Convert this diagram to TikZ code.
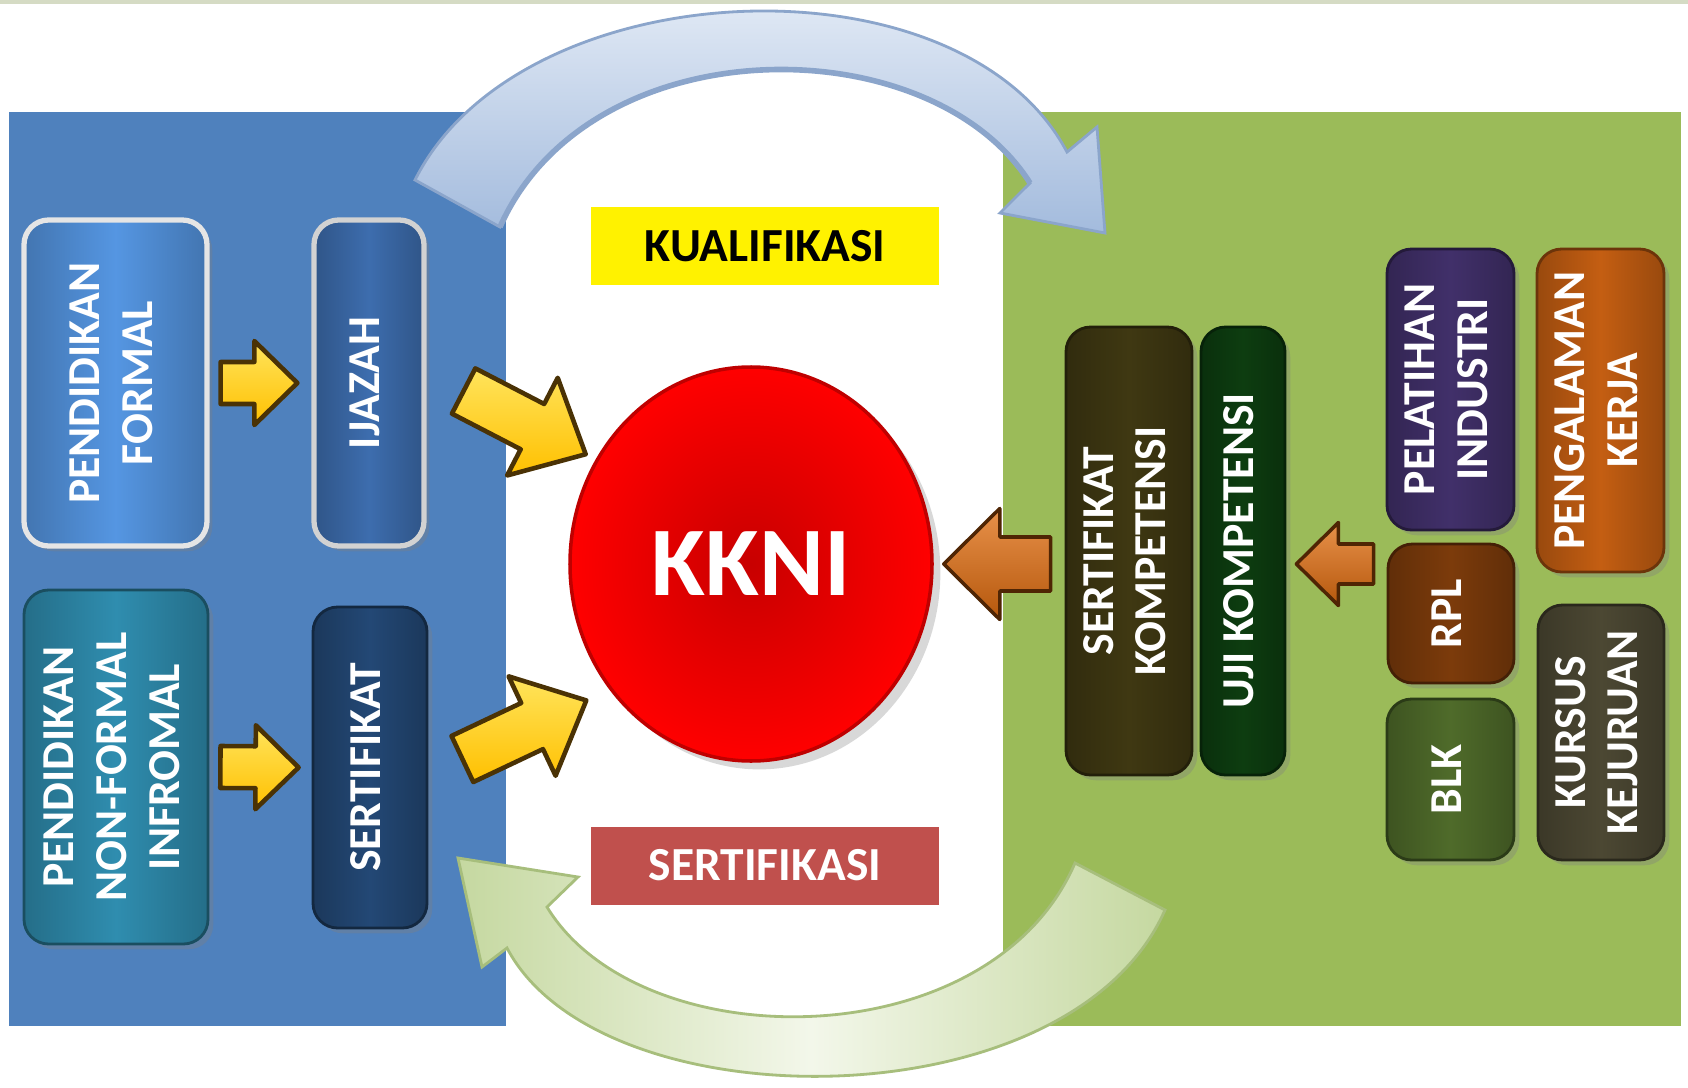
\documentclass[tikz,border=0pt]{standalone}
\usepackage{fontspec}
\usepackage{graphicx}
\setmainfont{Carlito}
\usetikzlibrary{calc,shapes.geometric,shadows}

\definecolor{panelblue}{HTML}{4F81BD}
\definecolor{panelgreen}{HTML}{9BBB59}
\definecolor{framegray}{HTML}{D5DBC4}
\definecolor{pfblue}{HTML}{5596E2}
\definecolor{ijblue}{HTML}{3D6DAE}
\definecolor{nfiteal}{HTML}{2F8DAF}
\definecolor{sertnavy}{HTML}{234875}
\definecolor{skolive}{HTML}{3F3812}
\definecolor{ujigreen}{HTML}{0D3D10}
\definecolor{pelpurple}{HTML}{41306A}
\definecolor{pengorange}{HTML}{C45E12}
\definecolor{rplbrown}{HTML}{7C3B0B}
\definecolor{blkgreen}{HTML}{4F6B2A}
\definecolor{kurgray}{HTML}{4C4833}
\definecolor{sertred}{HTML}{C0504D}
\definecolor{kknidark}{HTML}{C80000}
\definecolor{arrowyellow}{HTML}{FFC000}
\definecolor{arrowlight}{HTML}{FFE45C}
\definecolor{arrowedge}{HTML}{4A3205}
\definecolor{arrowbrown}{HTML}{B5570C}
\definecolor{arrowtan}{HTML}{E8914A}
\definecolor{brownedge}{HTML}{4F2504}
\definecolor{arctop}{HTML}{EEF3FA}
\definecolor{arcblue}{HTML}{A3BBDD}
\definecolor{arcedge}{HTML}{8BA5CB}
\definecolor{arcgreen}{HTML}{C5D8A0}
\definecolor{arcpale}{HTML}{F3F7EA}
\definecolor{arcgreenedge}{HTML}{A7BE7C}

\newcommand{\boxfont}{\fontsize{13}{15}\selectfont\bfseries}
\newcommand{\vtext}[1]{\rotatebox{90}{\begin{tabular}{@{}c@{}}#1\end{tabular}}}
% block arrow: style, from, to, half shaft, half head, head length
\newcommand{\blockarrow}[6]{%
  \coordinate (ba-s) at (#2);
  \coordinate (ba-e) at (#3);
  \coordinate (ba-b) at ($(ba-e)!#6!(ba-s)$);
  \draw[#1] ($(ba-s)!#4!90:(ba-e)$) -- ($(ba-b)!#4!90:(ba-e)$)
    -- ($(ba-b)!#5!90:(ba-e)$) -- (ba-e)
    -- ($(ba-b)!#5!-90:(ba-e)$) -- ($(ba-b)!#4!-90:(ba-e)$)
    -- ($(ba-s)!#4!-90:(ba-e)$) -- cycle;
}

\tikzset{
  panelbox/.style={rectangle, rounded corners=7pt, inner sep=0pt, text=white, font=\boxfont,
    left color=#1!78!black, right color=#1!78!black, middle color=#1,
    draw=#1!55!black, line width=0.8pt,
    drop shadow={opacity=0.35, shadow xshift=1.5pt, shadow yshift=-1.5pt}},
  tag/.style={rectangle, inner sep=0pt, minimum width=3.48cm, minimum height=0.78cm,
    font=\fontsize{13.5}{15}\selectfont\bfseries},
  yarrow/.style={draw=arrowedge, line width=1.3pt, line join=round,
    top color=arrowlight, bottom color=arrowyellow},
  barrow/.style={draw=brownedge, line width=1pt, line join=round,
    top color=arrowtan, bottom color=arrowbrown}
}

\begin{document}
\begin{tikzpicture}
  \useasboundingbox (0,0) rectangle (16.88,10.87);
  \fill[white] (0,0) rectangle (16.88,10.87);
  \draw[framegray, line width=1pt] (0,10.85) -- (16.88,10.85);
  \fill[panelblue] (0.09,0.61) rectangle (5.06,9.75);
  \fill[panelgreen] (10.03,0.61) rectangle (16.81,9.75);

  \draw[arcedge, line width=0.8pt, top color=arctop, bottom color=arcblue]
    (4.15,9.07) .. controls (5.20,11.17) and (9.60,11.37) .. (10.67,9.35)
    -- (10.97,9.60) -- (11.05,8.54) -- (10.00,8.74) -- (10.30,9.04)
    .. controls (9.30,10.62) and (5.90,10.62) .. (5.00,8.60) -- cycle;
  \draw[arcedge, line width=1.6pt] (10.30,9.04) .. controls (9.30,10.62) and (5.90,10.62) .. (5.00,8.60);
  \draw[arcgreenedge, line width=0.8pt, left color=arcgreen, right color=arcgreen, middle color=arcpale]
    (10.75,2.24) .. controls (9.90,0.27) and (6.40,0.27) .. (5.47,1.80)
    -- (5.78,2.10) -- (4.58,2.29) -- (4.82,1.20) -- (5.07,1.39)
    .. controls (6.00,-0.38) and (10.70,-0.38) .. (11.65,1.77) -- cycle;

  \node[panelbox=pfblue, draw=gray!20, line width=1.5pt, minimum width=1.83cm, minimum height=3.26cm] (pf) at (1.155,7.04) {\vtext{PENDIDIKAN\\FORMAL}};
  \node[panelbox=ijblue, draw=gray!35, line width=1.5pt, minimum width=1.10cm, minimum height=3.26cm] (ijazah) at (3.69,7.04) {\vtext{IJAZAH}};
  \node[panelbox=nfiteal, minimum width=1.84cm, minimum height=3.54cm] (nfi) at (1.16,3.20) {\vtext{PENDIDIKAN\\NON-FORMAL\\INFROMAL}};
  \node[panelbox=sertnavy, minimum width=1.14cm, minimum height=3.21cm] (sertif) at (3.70,3.195) {\vtext{SERTIFIKAT}};

  \node[tag, fill=yellow] (kualifikasi) at (7.65,8.41) {KUALIFIKASI};
  \node[tag, fill=sertred, text=white] (sertifikasi) at (7.65,2.215) {SERTIFIKASI};
  \node[ellipse, minimum width=3.62cm, minimum height=3.94cm, inner color=kknidark, outer color=red,
    draw=red!75!black, line width=1pt, drop shadow={opacity=0.3}, text=white,
    font=\fontsize{28}{30}\selectfont\bfseries] (kkni) at (7.51,5.23) {KKNI};

  \node[panelbox=skolive, minimum width=1.26cm, minimum height=4.48cm] (sk) at (11.29,5.36) {\vtext{SERTIFIKAT\\KOMPETENSI}};
  \node[panelbox=ujigreen, minimum width=0.84cm, minimum height=4.48cm] (uji) at (12.43,5.36) {\vtext{UJI KOMPETENSI}};
  \node[panelbox=pelpurple, minimum width=1.27cm, minimum height=2.81cm] (pelatihan) at (14.505,6.975) {\vtext{PELATIHAN\\INDUSTRI}};
  \node[panelbox=pengorange, minimum width=1.27cm, minimum height=3.23cm] (pengalaman) at (16.005,6.765) {\vtext{PENGALAMAN\\KERJA}};
  \node[panelbox=rplbrown, minimum width=1.26cm, minimum height=1.39cm] (rpl) at (14.51,4.735) {\vtext{RPL}};
  \node[panelbox=blkgreen, minimum width=1.27cm, minimum height=1.61cm] (blk) at (14.505,3.075) {\vtext{BLK}};
  \node[panelbox=kurgray, minimum width=1.26cm, minimum height=2.55cm] (kursus) at (16.01,3.545) {\vtext{KURSUS\\KEJURUAN}};

  \blockarrow{yarrow}{$(pf.east)+(0.11,0)$}{$(ijazah.west)+(-0.14,0)$}{0.21cm}{0.42cm}{0.43cm}
  \blockarrow{yarrow}{$(nfi.east)+(0.11,0)$}{$(sertif.west)+(-0.13,0)$}{0.21cm}{0.42cm}{0.43cm}
  \blockarrow{yarrow}{$(ijazah.east)+(0.37,-0.08)$}{$(kkni.146)+(-0.10,0.05)$}{0.255cm}{0.55cm}{0.60cm}
  \blockarrow{yarrow}{$(sertif.east)+(0.34,0.085)$}{$(kkni.220)+(-0.2,-0.15)$}{0.255cm}{0.55cm}{0.60cm}
  \blockarrow{barrow}{$(sk.west |- kkni.east)+(-0.14,0)$}{$(kkni.east)+(0.10,0)$}{0.27cm}{0.555cm}{0.56cm}
  \blockarrow{barrow}{$(rpl.west |- kkni.east)+(-0.13,0)$}{$(uji.east |- kkni.east)+(0.10,0)$}{0.20cm}{0.415cm}{0.42cm}
\end{tikzpicture}
\end{document}
